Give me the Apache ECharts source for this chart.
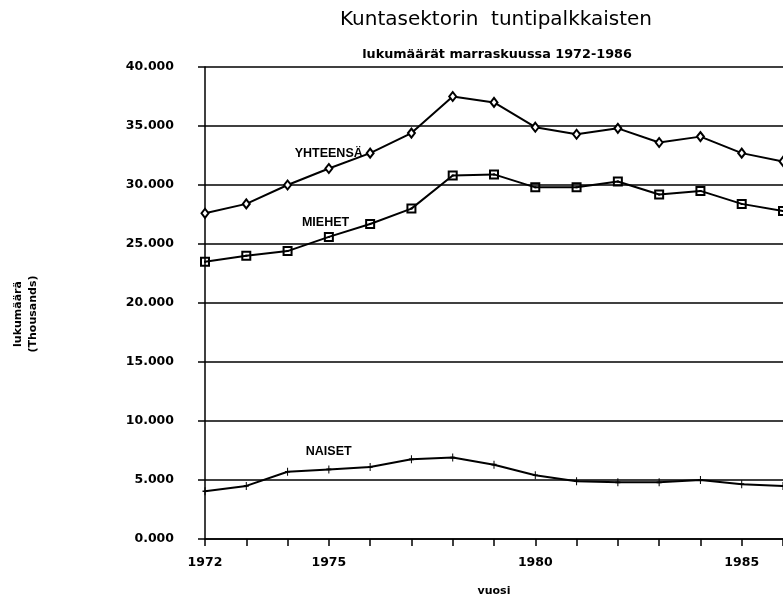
<!DOCTYPE html>
<html><head><meta charset="utf-8">
<script src="https://cdn.jsdelivr.net/npm/echarts@6/dist/echarts.min.js"></script>
<style>html,body{margin:0;padding:0;background:#fff}#c{width:783px;height:602px}</style>
</head><body><div id="c"></div>
<script>
var years = ['1972','1973','1974','1975','1976','1977','1978','1979','1980','1981','1982','1983','1984','1985','1986'];
var shownYears = ['1972','1975','1980','1985'];
var yhteensa = [27.6, 28.4, 30.0, 31.4, 32.7, 34.4, 37.5, 37.0, 34.9, 34.3, 34.8, 33.6, 34.1, 32.7, 32.0];
var miehet   = [23.5, 24.0, 24.4, 25.6, 26.7, 28.0, 30.8, 30.9, 29.8, 29.8, 30.3, 29.2, 29.5, 28.4, 27.8];
var naiset   = [4.05, 4.5, 5.7, 5.9, 6.1, 6.75, 6.9, 6.3, 5.4, 4.9, 4.8, 4.8, 5.0, 4.65, 4.5];
var seriesNames = ['YHTEENSÄ','MIEHET','NAISET'];
var labelIndex = 4;

var chart = echarts.init(document.getElementById('c'));
var FONT = 'DejaVu Sans';
function withLabel(arr, name, dist, offset){
  return arr.map(function(v,i){
    if(i!==labelIndex) return v;
    return {value:v, label:{show:true, formatter:name, position:'left', distance:dist, offset:offset,
      fontFamily:'Liberation Sans', fontWeight:'bold', fontSize:12.5, color:'#000'}};
  });
}
var lineStyle = {color:'#000', width:2};
chart.setOption({
  animation:false,
  backgroundColor:'#fff',
  title:[
    {text:'Kuntasektorin  tuntipalkkaisten', left:491, top:5, textAlign:'center',
     textStyle:{fontFamily:FONT, fontWeight:'normal', fontSize:20, color:'#000'}},
    {text:'lukumäärät marraskuussa 1972-1986', left:492, top:43, textAlign:'center',
     textStyle:{fontFamily:FONT, fontWeight:'bold', fontSize:12.8, color:'#000'}}
  ],
  grid:{left:205, right:-2, top:67, bottom:61},
  xAxis:{type:'category', data:years, boundaryGap:false,
    name:'vuosi', nameLocation:'middle', nameGap:47,
    nameTextStyle:{fontFamily:FONT, fontWeight:'bold', fontSize:11, color:'#000'},
    axisLine:{lineStyle:{color:'#000', width:1.5}},
    axisTick:{show:true, interval:0, length:7, lineStyle:{color:'#000', width:1.5}},
    axisLabel:{interval:function(i,v){return shownYears.indexOf(v)>=0;}, margin:17,
      fontFamily:FONT, fontWeight:'bold', fontSize:12.5, color:'#000'},
    splitLine:{show:false}},
  yAxis:{type:'value', min:0, max:40, interval:5,
    axisLine:{show:true, lineStyle:{color:'#000', width:1.5}},
    axisTick:{show:true, length:7, lineStyle:{color:'#000', width:1.5}},
    axisLabel:{margin:31, formatter:function(v){return v.toFixed(3);},
      fontFamily:FONT, fontWeight:'bold', fontSize:12.5, color:'#000'},
    splitLine:{show:true, lineStyle:{color:'#000', width:1.5}}},
  graphic:[{type:'text', rotation:Math.PI/2, x:26, y:314,
    style:{text:'lukumäärä\n(Thousands)', font:'bold 11px "DejaVu Sans"', fill:'#000', textAlign:'center', textVerticalAlign:'middle', lineHeight:15}}],
  series:[
    {name:seriesNames[0], type:'line', data:withLabel(yhteensa, seriesNames[0], 3, [0,0]),
     symbol:'emptyDiamond', symbolSize:[7,9], showAllSymbol:true,
     itemStyle:{color:'#000', borderWidth:1.4}, lineStyle:lineStyle},
    {name:seriesNames[1], type:'line', data:withLabel(miehet, seriesNames[1], 16, [0,-1]),
     symbol:'path://M0,0H10V10H0Z M2,2V8H8V2Z M4,4H6V6H4Z', symbolSize:10, showAllSymbol:true,
     itemStyle:{color:'#000'}, lineStyle:lineStyle},
    {name:seriesNames[2], type:'line', data:withLabel(naiset, seriesNames[2], 16, [0,-15]),
     symbol:'path://M4,0H6V4H10V6H6V10H4V6H0V4H4Z', symbolSize:[5,8], showAllSymbol:true,
     itemStyle:{color:'#000'}, lineStyle:lineStyle}
  ]
});
</script></body></html>
